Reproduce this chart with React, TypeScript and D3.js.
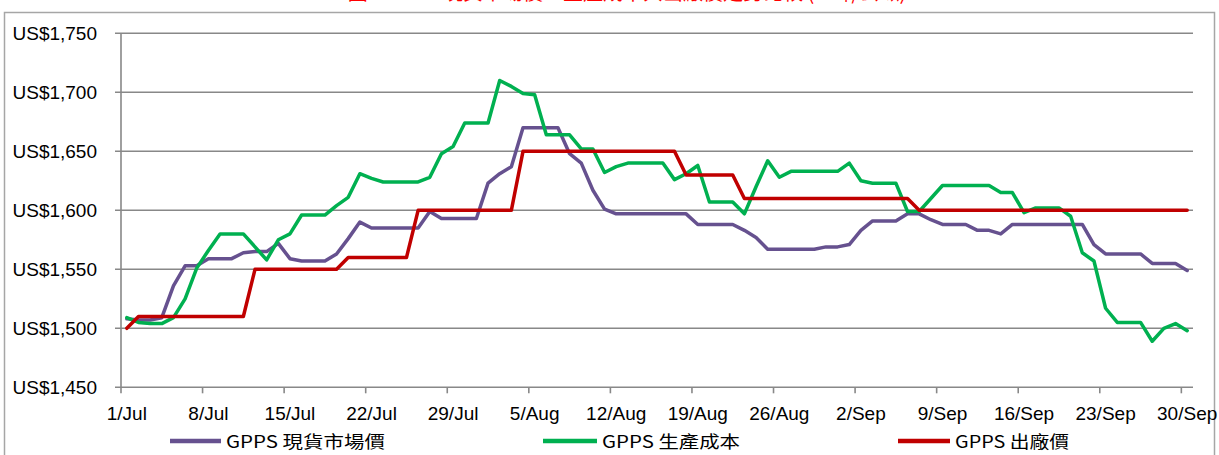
import React from 'react';
import * as d3 from 'd3';

// daily values, 1/Jul .. 30/Sep (92 days), US$ per tonne
const spotPrice = [
  1508, 1507, 1507, 1509, 1536, 1553, 1553,
  1559, 1559, 1559, 1564, 1565, 1565, 1572,
  1559, 1557, 1557, 1557, 1563, 1576, 1590,
  1585, 1585, 1585, 1585, 1585, 1599, 1593,
  1593, 1593, 1593, 1623, 1631, 1637, 1670,
  1670, 1670, 1670, 1648, 1640, 1617, 1601,
  1597, 1597, 1597, 1597, 1597, 1597, 1597,
  1588, 1588, 1588, 1588, 1583, 1577, 1567,
  1567, 1567, 1567, 1567, 1569, 1569, 1571,
  1583, 1591, 1591, 1591, 1597, 1597, 1592,
  1588, 1588, 1588, 1583, 1583, 1580, 1588,
  1588, 1588, 1588, 1588, 1588, 1588, 1571,
  1563, 1563, 1563, 1563, 1555, 1555, 1555,
  1549,
];

const productionCost = [
  1509, 1505, 1504, 1504, 1509, 1525, 1551,
  1566, 1580, 1580, 1580, 1569, 1558, 1575,
  1580, 1596, 1596, 1596, 1604, 1611, 1631,
  1627, 1624, 1624, 1624, 1624, 1628, 1648,
  1654, 1674, 1674, 1674, 1710, 1705, 1699,
  1698, 1664, 1664, 1664, 1652, 1652, 1632,
  1637, 1640, 1640, 1640, 1640, 1626, 1631,
  1638, 1607, 1607, 1607, 1597, 1620, 1642,
  1628, 1633, 1633, 1633, 1633, 1633, 1640,
  1625, 1623, 1623, 1623, 1599, 1599, 1610,
  1621, 1621, 1621, 1621, 1621, 1615, 1615,
  1598, 1602, 1602, 1602, 1595, 1564, 1557,
  1517, 1505, 1505, 1505, 1489, 1500, 1504,
  1498,
];

const exFactoryPrice = [
  1500, 1510, 1510, 1510, 1510, 1510, 1510,
  1510, 1510, 1510, 1510, 1550, 1550, 1550,
  1550, 1550, 1550, 1550, 1550, 1560, 1560,
  1560, 1560, 1560, 1560, 1600, 1600, 1600,
  1600, 1600, 1600, 1600, 1600, 1600, 1650,
  1650, 1650, 1650, 1650, 1650, 1650, 1650,
  1650, 1650, 1650, 1650, 1650, 1650, 1630,
  1630, 1630, 1630, 1630, 1610, 1610, 1610,
  1610, 1610, 1610, 1610, 1610, 1610, 1610,
  1610, 1610, 1610, 1610, 1610, 1600, 1600,
  1600, 1600, 1600, 1600, 1600, 1600, 1600,
  1600, 1600, 1600, 1600, 1600, 1600, 1600,
  1600, 1600, 1600, 1600, 1600, 1600, 1600,
  1600,
];

const tickLabels = [
  '1/Jul', '8/Jul', '15/Jul', '22/Jul', '29/Jul', '5/Aug', '12/Aug',
  '19/Aug', '26/Aug', '2/Sep', '9/Sep', '16/Sep', '23/Sep', '30/Sep',
];

const yTicks = [1450, 1500, 1550, 1600, 1650, 1700, 1750];

const seriesNames = ['GPPS 現貨市場價', 'GPPS 生產成本', 'GPPS 出廠價'];
const seriesColors = ['#66518f', '#00b050', '#c00000'];

const title = '圖、GPPS 現貨市場價、生產成本與出廠價走勢比較 (US$/公噸)';

const W = 1219;
const H = 455;
const plot = { left: 121, right: 1193, top: 33.3, bottom: 387.3 };
const axisFont = '"Liberation Sans", Arial, sans-serif';
const cjkFont = '"Noto Sans CJK TC", "Noto Sans CJK SC", sans-serif';

export default function App() {
  const nDays = spotPrice.length;
  const x = d3.scaleLinear().domain([0, nDays]).range([plot.left, plot.right]);
  const y = d3.scaleLinear().domain([1450, 1750]).range([plot.bottom, plot.top]);

  const line = d3.line<number>()
    .x((d, i) => x(i + 0.5))
    .y(d => y(d));

  const series = [spotPrice, productionCost, exFactoryPrice];
  const legendLine = [[170, 221], [543, 597], [898, 950]];
  const legendWidth = [159, 138, 114];

  return (
    <svg width={W} height={H} style={{ position: 'absolute', left: 0, top: 0, background: '#fff' }}>
      <rect x={0} y={0} width={W} height={H} fill="#fff" />
      {/* title sits mostly above the picture, only its lower edge shows */}
      <text x={627} y={0} textAnchor="middle" fill="#ff0000" fontSize={20} fontFamily={cjkFont}>
        {title}
      </text>
      <rect x={4.5} y={12.5} width={1210} height={480} fill="none" stroke="#a6a6a6" strokeWidth={1.5} />

      {/* gridlines + y labels */}
      {yTicks.map(t => (
        <g key={t}>
          <line x1={plot.left - 6} x2={plot.right} y1={y(t)} y2={y(t)} stroke="#888" strokeWidth={1.6} />
          <text x={97} y={y(t) + 6.5} textAnchor="end" fontSize={19} fontFamily={axisFont} fill="#000">
            {'US$' + d3.format(',')(t)}
          </text>
        </g>
      ))}
      <line x1={plot.left} x2={plot.left} y1={plot.top} y2={plot.bottom} stroke="#888" strokeWidth={1.6} />

      {/* x axis */}
      {tickLabels.map((lab, k) => (
        <g key={lab}>
          <line x1={x(k * 7)} x2={x(k * 7)} y1={plot.bottom} y2={plot.bottom + 6} stroke="#888" strokeWidth={1.6} />
          <text x={x(k * 7 + 0.5)} y={420} textAnchor="middle" fontSize={19} fontFamily={axisFont} fill="#000">
            {lab}
          </text>
        </g>
      ))}

      {series.map((s, i) => (
        <path key={seriesNames[i]} d={line(s) || ''} fill="none" stroke={seriesColors[i]}
          strokeWidth={3.5} strokeLinejoin="round" strokeLinecap="round" />
      ))}

      {/* legend */}
      {seriesNames.map((name, i) => (
        <g key={name}>
          <line x1={legendLine[i][0]} x2={legendLine[i][1]} y1={441} y2={441} stroke={seriesColors[i]} strokeWidth={4.5} />
          <text x={legendLine[i][1] + 5} y={448} fontSize={17} fontFamily={cjkFont} fill="#000"
            textLength={legendWidth[i]} lengthAdjust="spacingAndGlyphs">
            {name}
          </text>
        </g>
      ))}
    </svg>
  );
}
